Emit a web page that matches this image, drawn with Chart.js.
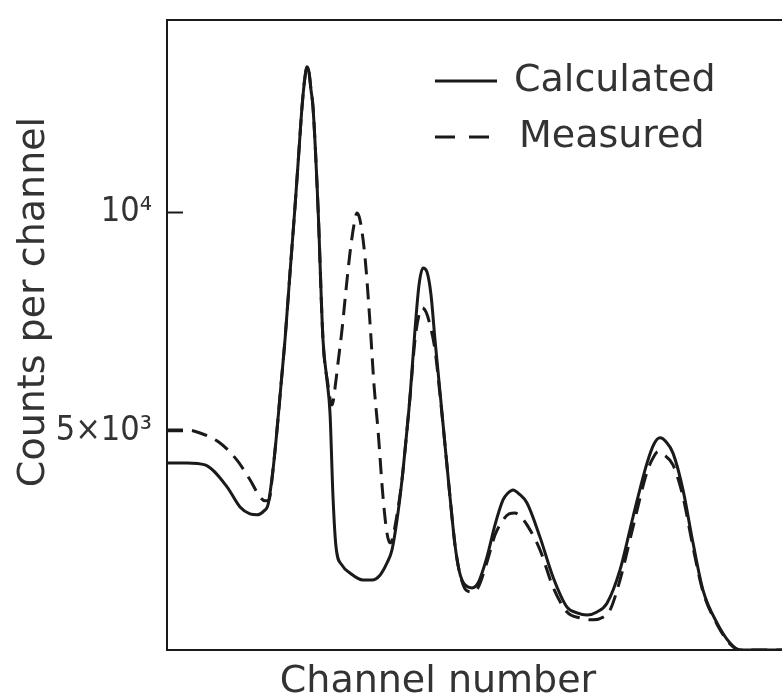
<!DOCTYPE html>
<html>
<head>
<meta charset="utf-8">
<script src="https://cdn.jsdelivr.net/npm/chart.js@4.4.1/dist/chart.umd.min.js"></script>
<style>
  html, body { margin: 0; padding: 0; background: #fff; overflow: hidden; }
  #wrap { width: 782px; height: 698px; position: relative; }
</style>
</head>
<body>
<div id="wrap"><canvas id="spectrum"></canvas></div>
<script>
// Calculated spectrum (solid line)
const channelCalc = [
  0, 4, 7.6, 12, 14.6, 16.6, 18, 19.4, 20.2, 21.2,
  22, 22.8, 23.6, 24.6, 25.6, 26.4, 27, 27.6, 28, 28.4,
  28.8, 29.2, 30.2, 31.2, 32, 32.6, 33.2, 33.8, 35, 36.6,
  39.2, 41, 42.6, 44, 45, 46, 47, 47.8, 48.6, 49.6,
  50.4, 51.2, 52, 52.8, 53.6, 54.6, 55.6, 56.6, 57.6, 58.4,
  59, 59.6, 61, 62.2, 64, 65.6, 67.2, 68.2, 69.2, 70.4,
  72, 74.6, 77.2, 80, 82, 84, 86, 88, 90.6, 93.2,
  96, 97.4, 98.6, 99.8, 101.2, 103.2, 105.2, 107.2, 110, 112.6,
  114.6, 123
];
const countsCalc = [
  4275, 4275, 4230, 3730, 3270, 3110, 3090, 3180, 3320, 4120,
  5030, 6060, 7090, 8620, 10130, 11430, 12410, 13100, 13330, 13210,
  12800, 12410, 10130, 7090, 6170, 5420, 3500, 2360, 1940, 1760,
  1600, 1600, 1710, 1990, 2290, 2970, 3890, 4800, 5780, 7320,
  8340, 8730, 8640, 8120, 7090, 5900, 4690, 3500, 2400, 1830,
  1600, 1490, 1420, 1530, 2130, 2860, 3430, 3590, 3660, 3570,
  3360, 2580, 1670, 980, 850, 800, 870, 1070, 1830, 3040,
  4270, 4710, 4850, 4760, 4500, 3660, 2450, 1370, 620, 160,
  0, 0
];

// Measured spectrum (dashed line)
const channelMeas = [
  0, 4, 6.6, 10.6, 14, 16.6, 18.6, 19.6, 20.4, 21.2,
  22, 22.8, 23.6, 24.6, 25.6, 26.4, 27, 27.6, 28, 28.4,
  28.8, 29.2, 30.2, 31.2, 32.2, 33, 33.8, 34.2, 35, 35.8,
  36.6, 37.4, 38, 38.6, 39.6, 40.6, 41.4, 42.2, 43.2, 44,
  44.6, 45, 46, 47, 47.8, 48.6, 49.6, 50.4, 51, 51.8,
  52.6, 53.6, 54.6, 55.6, 56.6, 57.6, 58.4, 59.2, 59.8, 61,
  62.2, 64, 65.6, 67.2, 68.4, 69.6, 70.8, 72, 74.6, 77.2,
  80, 82.6, 85.2, 87.2, 88.6, 90.6, 93.2, 96, 97.4, 98.2,
  99.4, 101.2, 103.2, 105.2, 107.2, 110, 112.6, 114.6, 123
];
const countsMeas = [
  5030, 5030, 4960, 4730, 4340, 3890, 3500, 3410, 3430, 4120,
  5030, 6060, 7090, 8620, 10130, 11430, 12410, 13100, 13330, 13210,
  12800, 12410, 10130, 7090, 6060, 5600, 6170, 6560, 7320, 8230,
  9080, 9720, 9990, 9830, 8980, 7480, 6060, 5030, 3500, 2670,
  2450, 2510, 3090, 3890, 4800, 5780, 7090, 7660, 7820, 7730,
  7430, 6860, 5830, 4690, 3500, 2400, 1830, 1500, 1370, 1330,
  1420, 2010, 2630, 2970, 3110, 3130, 3040, 2860, 2290, 1440,
  870, 730, 690, 750, 910, 1600, 2810, 4070, 4430, 4530,
  4460, 4230, 3500, 2350, 1330, 590, 140, 0, 0
];

// y-axis ticks
const yTickValues = [5000, 10000];
const yTickLabels = ['5×10³', '10⁴'];

const seriesLabels = ['Calculated', 'Measured'];
const xTitle = 'Channel number';
const yTitle = 'Counts per channel';

const ink = '#1a1a1a';
const fontFam = "'DejaVu Sans', sans-serif";
const narrowFam = "'Liberation Sans Narrow', 'DejaVu Sans Condensed', 'DejaVu Sans', sans-serif";

function toPoints(xs, ys) {
  return xs.map((x, i) => ({ x: x, y: ys[i] }));
}

// tick marks pointing into the plot + axis titles + legend
const decorPlugin = {
  id: 'decor',
  afterDraw(chart) {
    const ctx = chart.ctx;
    const area = chart.chartArea;
    const ys = chart.scales.y;
    ctx.save();
    ctx.strokeStyle = ink;
    ctx.lineWidth = 2;
    yTickValues.forEach(v => {
      const py = ys.getPixelForValue(v);
      ctx.beginPath();
      ctx.moveTo(area.left, py);
      ctx.lineTo(area.left + 16, py);
      ctx.stroke();
    });

    // axis titles
    ctx.fillStyle = '#333';
    ctx.font = '38px ' + fontFam;
    ctx.textAlign = 'center';
    ctx.textBaseline = 'middle';
    ctx.fillText(xTitle, 438, 682);
    ctx.save();
    ctx.translate(34, 302);
    ctx.rotate(-Math.PI / 2);
    ctx.fillText(yTitle, 0, 0);
    ctx.restore();

    // legend
    const rows = [81, 137];
    chart.data.datasets.forEach((ds, i) => {
      ctx.save();
      ctx.strokeStyle = ink;
      ctx.lineWidth = 3;
      ctx.setLineDash(ds.borderDash && ds.borderDash.length ? [20, 14] : []);
      ctx.beginPath();
      ctx.moveTo(435, rows[i]);
      ctx.lineTo(497, rows[i]);
      ctx.stroke();
      ctx.restore();
      ctx.textAlign = 'left';
      ctx.fillText(ds.label, 514 + i * 5, rows[i]);
    });
    ctx.restore();
  }
};

Chart.defaults.font.family = fontFam;
Chart.defaults.color = '#333';

new Chart(document.getElementById('spectrum'), {
  type: 'line',
  data: {
    datasets: [
      {
        label: seriesLabels[0],
        data: toPoints(channelCalc, countsCalc),
        borderColor: ink,
        borderWidth: 3,
        pointRadius: 0,
        cubicInterpolationMode: 'monotone',
        fill: false
      },
      {
        label: seriesLabels[1],
        data: toPoints(channelMeas, countsMeas),
        borderColor: ink,
        borderWidth: 3,
        borderDash: [16, 9],
        pointRadius: 0,
        cubicInterpolationMode: 'monotone',
        fill: false
      }
    ]
  },
  options: {
    responsive: true,
    maintainAspectRatio: false,
    animation: false,
    layout: { padding: { top: 20, right: 0, bottom: 0, left: 0 } },
    plugins: {
      legend: { display: false },
      tooltip: { enabled: false }
    },
    scales: {
      x: {
        type: 'linear',
        position: 'bottom',
        min: 0,
        max: 123,
        grid: { display: false },
        border: { display: true, color: ink, width: 2 },
        ticks: { display: false },
        afterFit(scale) {
          scale.height = 48;
          scale.paddingLeft = 0;
          scale.paddingRight = 0;
        }
      },
      xTop: {
        type: 'linear',
        position: 'top',
        min: 0,
        max: 123,
        grid: { display: false },
        border: { display: true, color: ink, width: 2 },
        ticks: { display: false },
        afterFit(scale) {
          scale.height = 0;
          scale.paddingLeft = 0;
          scale.paddingRight = 0;
        }
      },
      y: {
        type: 'linear',
        min: 0,
        max: 14400,
        grid: { display: false, drawTicks: false },
        border: { display: true, color: ink, width: 2 },
        afterBuildTicks(scale) {
          scale.ticks = yTickValues.map(v => ({ value: v }));
        },
        ticks: {
          padding: 15,
          font: { size: 34, family: narrowFam },
          color: '#333',
          callback(value) {
            const i = yTickValues.indexOf(value);
            return i >= 0 ? yTickLabels[i] : '';
          }
        },
        afterFit(scale) {
          scale.width = 167;
          scale.paddingTop = 0;
          scale.paddingBottom = 0;
        }
      }
    }
  },
  plugins: [decorPlugin]
});
</script>
</body>
</html>
